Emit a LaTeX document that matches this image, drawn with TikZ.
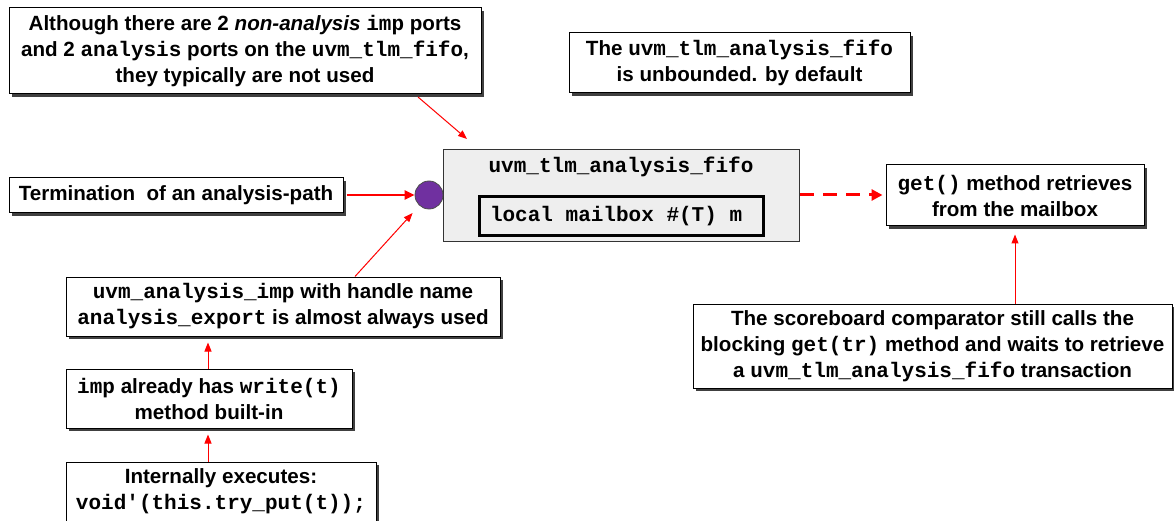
\documentclass[tikz,border=0pt]{standalone}
\usepackage{fontspec}
\setmainfont{Liberation Sans}
\setmonofont[Scale=1.02]{Liberation Mono}
\usetikzlibrary{arrows.meta,shadows,calc}
\definecolor{portpurple}{HTML}{7030A0}
\definecolor{fifogray}{HTML}{EEEEEE}
\definecolor{linkred}{HTML}{FF0000}
% one full monospace character cell of blank space
\newcommand\monogap{\hspace{0.6em}}
\tikzset{
  labelfont/.style={font=\fontsize{20.6}{26}\selectfont\bfseries},
  note/.style={draw=black, line width=1pt, fill=white, align=center, inner sep=0pt,
    labelfont,
    general shadow={fill=black!75, shadow xshift=3pt, shadow yshift=-3pt}},
  link/.style={draw=linkred, line width=1pt, -{Triangle[length=9pt,width=7pt]}},
  thicklink/.style={draw=linkred, line width=2.5pt, -{Triangle[length=10pt,width=9pt]}},
  dashlink/.style={draw=linkred, line width=3pt, dash pattern=on 14pt off 9pt,
    -{Triangle[length=11pt,width=11pt]}},
}
\begin{document}
\begin{tikzpicture}[x=1pt,y=-1pt]
\useasboundingbox (0,0) rectangle (1174,521);

% callout boxes
\node[note, minimum width=472pt, minimum height=86pt] (unused) at (245,51)
  {Although there are 2 \textit{non-analysis} \texttt{imp} ports\\
   and 2 \texttt{analysis} ports on the \texttt{uvm\_tlm\_fifo},\\
   they typically are not used};
\node[note, minimum width=341pt, minimum height=60pt] (unbounded) at (739.5,63)
  {The \texttt{uvm\_tlm\_analysis\_fifo}\\ is unbounded. by default};
\node[note, minimum width=334pt, minimum height=35pt] (term) at (176,195.5)
  {Termination \ of an analysis-path};
\node[note, minimum width=434pt, minimum height=59pt] (impbox) at (283,306.5)
  {\texttt{uvm\_analysis\_imp} with handle name\\
   \texttt{analysis\_export} is almost always used};
\node[note, minimum width=286pt, minimum height=59pt] (write) at (209,398.5)
  {\texttt{imp} already has \texttt{write(t)}\\ method built-in};
\node[note, minimum width=310pt, minimum height=59pt] (tryput) at (221,491.5)
  {Internally executes:\\ \texttt{void'(this.try\_put(t));}};
\node[note, minimum width=258pt, minimum height=61pt] (getbox) at (1015,195.5)
  {\texttt{get()} method retrieves\\ from the mailbox};
\node[note, minimum width=479pt, minimum height=84pt] (score) at (932.5,346)
  {The scoreboard comparator still calls the\\
   blocking \texttt{get(tr)} method and waits to retrieve\\
   a \texttt{uvm\_tlm\_analysis\_fifo} transaction};

% the analysis fifo component
\node[draw=black!80, line width=0.8pt, fill=fifogray, minimum width=356pt,
      minimum height=92pt, inner sep=0pt] (fifo) at (621,195) {};
\node[labelfont, inner sep=0pt] (fifotitle)
  at (621,167) {\ttfamily uvm\_tlm\_analysis\_fifo};
\node[draw=black, line width=3pt, fill=fifogray, minimum height=39pt,
      text width=262pt, inner xsep=11pt, inner ysep=0pt, align=left,
      labelfont] (mailbox) at (621,216.5)
  {\ttfamily local\monogap mailbox\monogap\#(T)\monogap m};

% analysis export port
\node[circle, draw=black!70, line width=0.8pt, fill=portpurple, minimum size=28pt,
      inner sep=0pt] (port) at (429,195) {};

% connectors
\coordinate (unusedtail) at (418,97);
\coordinate (fifocorner) at (467,139);
\draw[link] (unusedtail) -- (fifocorner);
\draw[thicklink, shorten <=3pt] (term.east |- port.west) -- (port.west);
\draw[link, shorten >=10pt] (impbox.north -| 355,0) -- (port);
\draw[link, shorten >=6pt] (write.north -| 208,0) -- (impbox.south -| 208,0);
\draw[link, shorten >=6pt] (tryput.north -| 208,0) -- (write.south -| 208,0);
\draw[dashlink, shorten <=1pt, shorten >=3pt] (fifo.east |- 0,195) -- (getbox.west |- 0,195);
\draw[link, shorten >=8pt] (score.north -| getbox.south) -- (getbox.south);
\end{tikzpicture}
\end{document}
